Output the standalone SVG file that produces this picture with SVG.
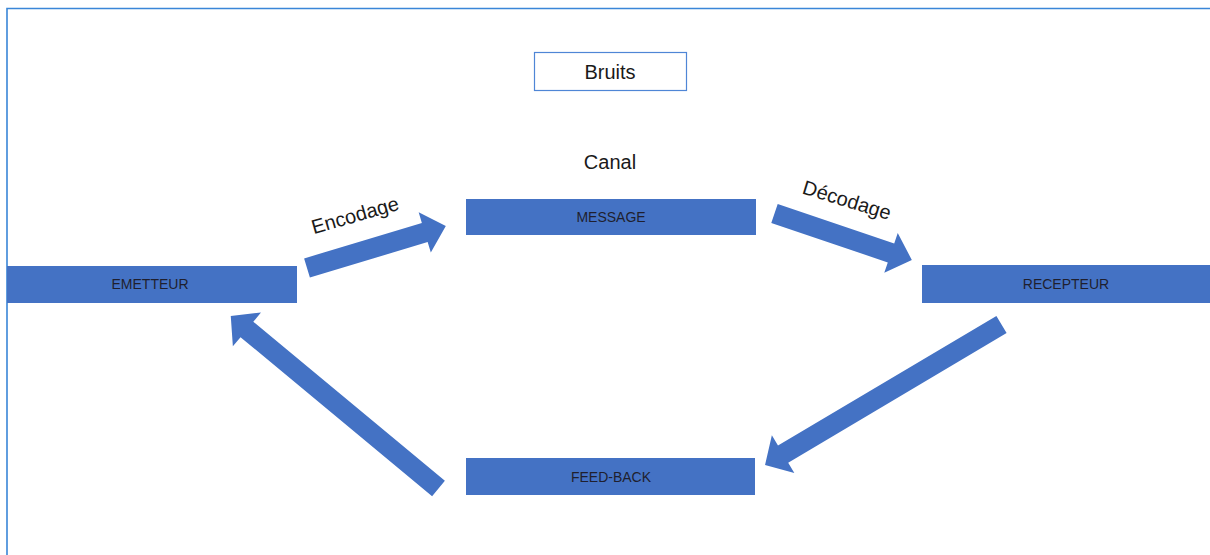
<svg xmlns="http://www.w3.org/2000/svg" width="1210" height="555" viewBox="0 0 1210 555">
  <style>
    .node { fill: #4472C4; }
    .lbl { font-family: "Liberation Sans", Arial, sans-serif; font-size: 14px; fill: #1f1f2e; text-anchor: middle; dominant-baseline: central; }
    .big { font-family: "Liberation Sans", Arial, sans-serif; font-size: 20px; fill: #1a1a1a; text-anchor: middle; dominant-baseline: central; }
    .arrow { fill: #4472C4; }
  </style>
  <rect width="1210" height="555" fill="#ffffff"/>
  <path d="M7,555 V8.5 H1210" fill="none" stroke="#3a86d8" stroke-width="1.6"/>

  <g id="bruits">
    <rect x="534.5" y="52.5" width="152" height="38" fill="#ffffff" stroke="#4f86d6" stroke-width="1.2"/>
    <text class="big" x="610" y="72">Bruits</text>
  </g>
  <g id="canal">
    <text class="big" x="610" y="162">Canal</text>
  </g>
  <g id="message">
    <rect class="node" x="466" y="199" width="290" height="36"/>
    <text class="lbl" x="611" y="217">MESSAGE</text>
  </g>
  <g id="emetteur">
    <rect class="node" x="7" y="266" width="290" height="37"/>
    <text class="lbl" x="150" y="284">EMETTEUR</text>
  </g>
  <g id="recepteur">
    <rect class="node" x="922" y="265" width="288" height="38"/>
    <text class="lbl" x="1066" y="284">RECEPTEUR</text>
  </g>
  <g id="feedback">
    <rect class="node" x="466" y="458" width="289" height="37"/>
    <text class="lbl" x="611" y="477">FEED-BACK</text>
  </g>

  <g id="connectors">
    <path class="arrow" transform="translate(307,268) rotate(-16.8)" d="M0,-10 L123,-10 L123,-21 L145,0 L123,21 L123,10 L0,10 Z"/>
    <text class="big" transform="translate(355,215) rotate(-16)" x="0" y="0">Encodage</text>
    <path class="arrow" transform="translate(774.5,213.5) rotate(18.7)" d="M0,-10 L123,-10 L123,-21 L145,0 L123,21 L123,10 L0,10 Z"/>
    <text class="big" transform="translate(847,200) rotate(17)" x="0" y="0">Décodage</text>
    <path class="arrow" transform="translate(1001.5,324.5) rotate(149.3)" d="M0,-10 L254,-10 L254,-22 L275,0 L254,22 L254,10 L0,10 Z"/>
    <path class="arrow" transform="translate(438.5,488.5) rotate(-140.3)" d="M0,-10 L249,-10 L249,-22 L270,0 L249,22 L249,10 L0,10 Z"/>
  </g>
</svg>
